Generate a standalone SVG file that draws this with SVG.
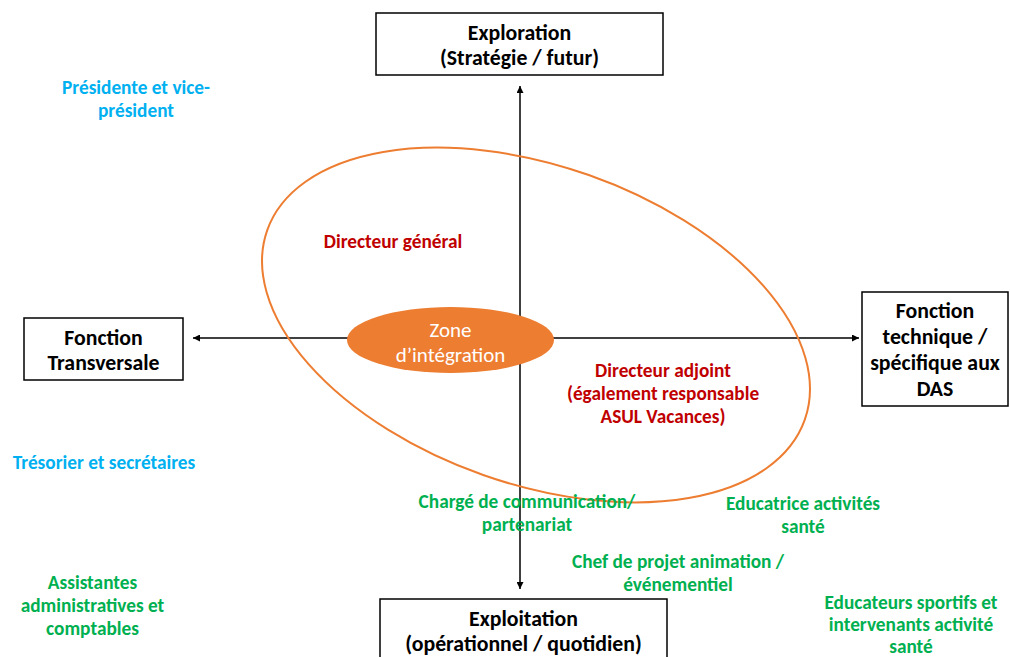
<svg xmlns="http://www.w3.org/2000/svg" width="1010" height="657" viewBox="0 0 1010 657">
<style>
text{font-family:Carlito,Lato,"Liberation Sans",sans-serif;text-anchor:middle}
.box{fill:#fff;stroke:#000;stroke-width:1.5}
.bt{font-size:21.8px;font-weight:bold;fill:#000}
.lb{font-size:19.3px;font-weight:bold}
.blue{fill:#00B0F0}.green{fill:#00B050}.red{fill:#C00000}
.ax{stroke:#000;stroke-width:1.5;fill:none}
</style>
<defs>
<marker id="ah" viewBox="0 0 10 10" refX="10" refY="5" markerWidth="7" markerHeight="7" markerUnits="userSpaceOnUse" orient="auto"><path d="M0,0 L10,5 L0,10 z" fill="#000"/></marker>
</defs>
<rect width="1010" height="657" fill="#fff"/>
<g id="connectors">
<line class="ax" x1="520" y1="338" x2="520" y2="86" marker-end="url(#ah)"/>
<line class="ax" x1="520" y1="338" x2="520" y2="589" marker-end="url(#ah)"/>
<line class="ax" x1="520" y1="338" x2="193" y2="338" marker-end="url(#ah)"/>
<line class="ax" x1="520" y1="338" x2="859" y2="338" marker-end="url(#ah)"/>
</g>
<g id="zone-large"><ellipse cx="536" cy="325" rx="285" ry="159" transform="rotate(19.4 536 325)" fill="none" stroke="#ED7D31" stroke-width="2"/></g>
<g id="zone-integration">
<ellipse cx="450.5" cy="340" rx="103.5" ry="33" fill="#ED7D31"/>
<text x="450.5" y="337" font-size="21" fill="#fff">Zone</text>
<text x="450.5" y="362" font-size="21" fill="#fff">d’intégration</text>
</g>
<g id="exploration"><rect class="box" x="376" y="13" width="287" height="62"/>
<text class="bt" x="519.5" y="40">Exploration</text><text class="bt" x="519.5" y="65">(Stratégie / futur)</text></g>
<g id="transversale"><rect class="box" x="24" y="318" width="159" height="62"/>
<text class="bt" x="103.5" y="345">Fonction</text><text class="bt" x="103.5" y="370">Transversale</text></g>
<g id="technique"><rect class="box" x="862" y="292" width="146" height="114"/>
<text class="bt" x="935" y="318">Fonction</text><text class="bt" x="935" y="344">technique /</text><text class="bt" x="935" y="370">spécifique aux</text><text class="bt" x="935" y="396">DAS</text></g>
<g id="exploitation"><rect class="box" x="380" y="599" width="287" height="70"/>
<text class="bt" x="523.5" y="626">Exploitation</text><text class="bt" x="523.5" y="651">(opérationnel / quotidien)</text></g>
<g id="presidente"><text class="lb blue" x="136" y="94">Présidente et vice-</text><text class="lb blue" x="136" y="117">président</text></g>
<g id="tresorier"><text class="lb blue" x="104" y="469">Trésorier et secrétaires</text></g>
<g id="assistantes"><text class="lb green" x="92.5" y="589">Assistantes</text><text class="lb green" x="92.5" y="612">administratives et</text><text class="lb green" x="92.5" y="635">comptables</text></g>
<g id="dg"><text class="lb red" x="393" y="248">Directeur général</text></g>
<g id="adjoint"><text class="lb red" x="663" y="377">Directeur adjoint</text><text class="lb red" x="663" y="400">(également responsable</text><text class="lb red" x="663" y="423">ASUL Vacances)</text></g>
<g id="communication"><text class="lb green" x="527" y="508">Chargé de communication/</text><text class="lb green" x="527" y="531">partenariat</text></g>
<g id="educatrice"><text class="lb green" x="803" y="510">Educatrice activités</text><text class="lb green" x="803" y="533">santé</text></g>
<g id="chefprojet"><text class="lb green" x="678" y="568">Chef de projet animation /</text><text class="lb green" x="678" y="591">événementiel</text></g>
<g id="educateurs"><text class="lb green" x="911" y="609">Educateurs sportifs et</text><text class="lb green" x="911" y="631">intervenants activité</text><text class="lb green" x="911" y="653">santé</text></g>
</svg>
